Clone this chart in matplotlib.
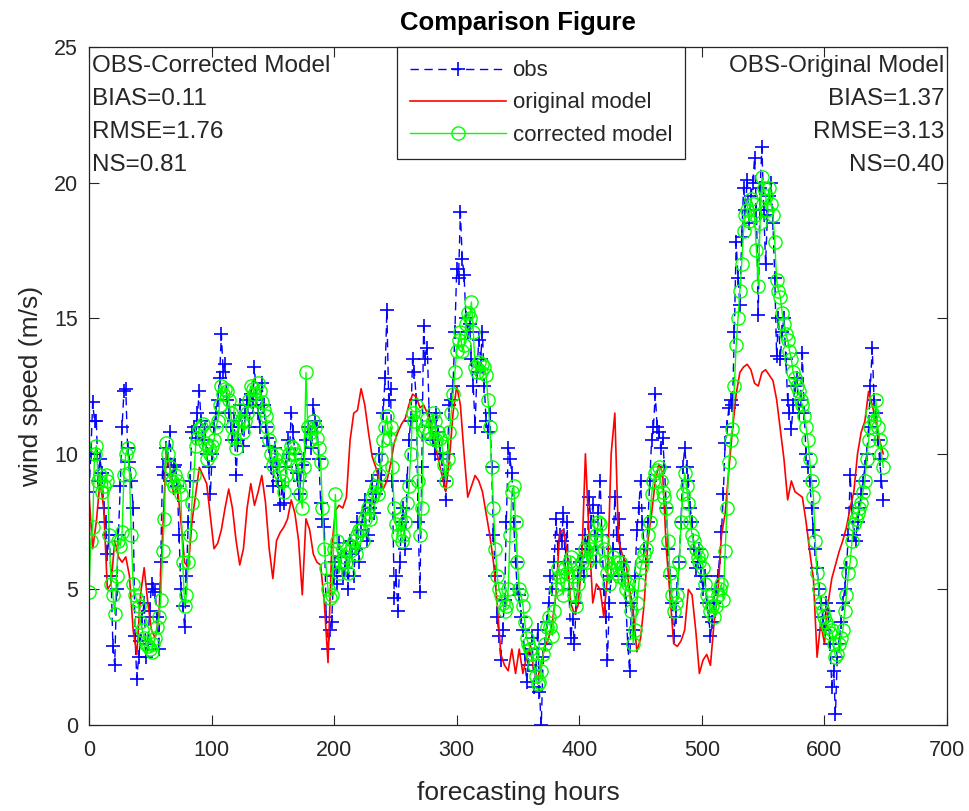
import numpy as np
import matplotlib
matplotlib.use("Agg")
import matplotlib.pyplot as plt

plt.rcParams['font.family'] = ['Liberation Sans', 'DejaVu Sans']

# forecasting hours: main 3-hourly samples and the in-between samples
hours = np.arange(0, 649, 3)
hours_mid = np.arange(1.5, 648, 3)

obs = [
    8.6, 11.9, 11.2, 9.8, 8.0, 6.3, 5.5, 2.2, 7.0, 11.0,
    12.4, 9.7, 8.0, 1.7, 3.1, 4.5, 3.0, 5.2, 4.9, 2.8,
    9.5, 10.2, 10.8, 9.5, 8.8, 5.0, 3.6, 7.5, 10.8, 10.6,
    12.3, 10.5, 10.0, 8.5, 11.0, 12.0, 14.4,
    13.3, 11.5, 10.5, 9.2, 11.8, 10.3, 12.0, 12.2, 13.2, 11.5,
    12.6, 11.0, 10.3, 8.8, 9.5, 8.1, 8.2, 10.5, 11.5, 10.0,
    8.5, 9.6, 10.5, 10.8, 11.8, 11.0, 8.2, 7.3, 2.8, 3.8,
    6.0, 6.7, 5.5,
    6.2, 6.8, 5.5, 7.5, 7.2, 8.3, 7.0, 9.0, 8.5, 10.0,
    11.5, 15.3, 12.4, 4.7, 4.2, 7.5, 6.5, 10.5, 13.5, 12.0,
    4.9, 14.7, 13.9, 11.0, 10.0, 10.8, 9.8, 8.3, 11.8, 12.5,
    16.8, 18.9, 16.6, 14.5, 13.5, 11.0, 14.2,
    14.5, 11.2, 11.5, 7.0, 4.0, 2.4, 4.6, 10.2, 9.3, 6.0,
    4.8, 3.5, 1.6, 2.8, 1.4, 3.5, 0.0, 3.0, 4.5, 5.0,
    7.6, 7.0,
    7.8, 7.5, 3.2, 3.0, 5.5, 6.5, 7.0, 8.4, 8.1, 6.0,
    9.0, 5.0, 2.4, 5.5, 8.4, 7.6, 5.5, 4.5, 2.0, 3.5,
    7.2, 9.0, 6.5, 7.5, 10.5, 12.2, 10.8, 10.6, 8.0, 5.5,
    3.3, 5.0, 7.5, 10.2, 9.0, 7.5, 5.8, 6.5, 5.0, 4.5,
    3.3, 4.5, 5.5, 7.1, 10.4, 11.7, 11.8,
    17.8, 15.5, 19.8, 20.1, 19.5, 20.9, 15.1, 21.3, 17.0, 19.5,
    18.5, 13.6, 13.5, 15.0, 12.0, 10.9, 12.5, 11.5, 13.7, 10.0,
    9.0, 7.2, 5.8, 4.5, 3.5, 4.2, 1.4, 0.4, 3.0, 4.5,
    5.8, 9.2, 7.0, 7.5, 8.5, 9.5, 11.0, 13.9, 11.5, 9.8,
    8.3,
]

obs_mid = [
    10.0, 11.2, 9.0, 9.3, 7.5, 7.0, 2.9, 5.0, 8.8, 12.3,
    10.2, 9.0, 3.3, 2.5, 4.0, 2.5, 4.2, 5.0, 4.0, 6.0,
    9.2, 9.8, 9.0, 9.6, 7.0, 4.4, 5.5, 9.0, 11.0, 11.5,
    11.2, 11.0, 9.5, 10.0, 11.5, 12.8,
    13.0, 12.0, 11.0, 11.2, 10.5, 11.0, 11.5, 11.0, 11.8, 12.0,
    11.0, 11.8, 10.6, 9.5, 10.2, 9.0, 8.8, 9.5, 10.0, 10.8,
    9.3, 9.0, 9.8, 11.0, 10.2, 11.2, 9.8, 7.6, 4.0, 3.5,
    5.5, 5.2, 6.2, 5.8,
    5.0, 6.3, 6.5, 6.0, 7.8, 6.8, 8.0, 7.8, 9.2, 9.0,
    12.8, 12.0, 9.0, 5.5, 6.0, 8.0, 9.0, 11.2, 13.0, 7.5,
    9.5, 13.5, 11.5, 10.5, 11.5, 10.0, 9.0, 10.0, 12.0, 14.5,
    16.5, 17.2, 15.0, 14.8, 12.5, 13.0,
    13.5, 12.5, 10.8, 9.5, 5.5, 3.3, 3.5, 7.5, 9.8, 7.5,
    5.0, 4.0, 2.6, 2.2, 3.2, 2.0, 1.2, 2.5, 3.8, 5.5,
    6.0, 6.5, 6.8,
    6.0, 5.0, 3.9, 4.5, 6.0, 5.5, 6.5, 7.5, 7.0, 7.8,
    7.0, 4.0, 4.5, 6.5, 7.0, 6.5, 6.0, 3.0, 4.5, 5.5,
    8.0, 7.5, 6.0, 9.0, 11.0, 11.0, 10.2, 9.5, 6.5, 4.5,
    4.0, 6.0, 9.5, 9.5, 8.0, 6.5, 6.0, 5.5, 5.5, 4.0,
    3.8, 5.0, 6.2, 8.5, 11.0, 12.0, 14.5,
    16.5, 18.0, 19.0, 18.5, 20.0, 19.0, 19.8, 19.0, 18.8, 20.0,
    16.5, 15.0, 14.5, 13.5, 11.5, 11.8, 12.8, 12.0, 11.5, 9.5,
    8.0, 6.5, 5.0, 4.0, 4.5, 3.0, 2.0, 2.5, 3.8, 5.0,
    7.0, 8.0, 6.8, 8.0, 9.0, 10.0, 12.5, 12.0, 10.5, 9.0,
]

original_model = [
    8.5, 6.5, 7.5, 9.0, 8.0, 5.0, 5.2, 6.8, 6.2, 6.0,
    6.2, 5.5, 3.5, 2.6, 4.8, 5.8, 4.5, 3.5, 3.2, 4.0,
    7.0, 10.0, 9.5, 8.5, 8.8, 7.5, 6.0, 5.8, 7.5, 8.5,
    9.5, 9.2, 8.9, 7.7, 6.5, 6.7, 7.2, 8.0, 8.7, 8.0,
    6.8, 5.9, 6.5, 8.0, 8.9, 8.1, 8.6, 9.2, 8.2, 6.5,
    5.4, 6.8, 7.1, 7.3, 7.6, 8.3, 7.8, 6.8, 4.8, 7.6,
    7.2, 6.3, 6.0, 5.9, 4.5, 2.3, 6.5, 7.9, 8.1, 8.0,
    8.4, 10.5, 11.5, 11.6, 12.4, 11.8, 10.8, 9.9, 9.5, 9.0,
    8.7, 9.0, 9.6, 10.4, 10.8, 11.1, 11.3, 11.8, 12.2, 12.1,
    11.7, 11.8, 11.5, 11.0, 10.4, 9.8, 9.2, 8.6, 9.8, 11.5,
    12.5, 11.8, 10.0, 8.4, 8.8, 9.2, 9.0, 8.6, 7.8, 7.0,
    6.0, 4.5, 2.6, 2.2, 2.0, 2.8, 1.9, 2.8, 1.9, 2.5,
    2.9, 2.0, 1.7, 2.3, 2.9, 3.2, 3.8, 4.8, 7.1, 7.2,
    6.4, 4.5, 4.1, 4.4, 6.0, 10.0, 7.0, 4.5, 5.2, 5.0,
    4.0, 5.5, 10.0, 11.5, 6.8, 6.3, 6.0, 5.0, 4.2, 2.7,
    3.2, 4.5, 6.8, 7.8, 9.0, 9.6, 9.3, 6.5, 4.8, 3.0,
    2.9, 3.1, 3.5, 5.0, 4.8, 3.5, 1.9, 2.4, 2.6, 2.2,
    3.8, 4.8, 7.0, 7.8, 9.4, 10.9, 12.2, 13.0, 13.2, 13.3,
    13.1, 12.6, 12.5, 13.0, 13.1, 12.9, 12.7, 12.0, 10.9, 9.8,
    8.3, 9.0, 8.6, 8.5, 8.4, 7.5, 6.4, 5.4, 2.5, 3.8,
    3.0, 4.5, 5.4, 5.9, 6.4, 6.8, 7.3, 8.0, 8.6, 10.0,
    10.8, 11.2, 12.3, 11.8, 11.2, 10.5, 10.0,
]

corrected_model = [
    4.9, 7.3, 10.3, 9.2, 8.8, 9.0, 5.2, 4.1, 6.8, 7.1,
    10.0, 9.3, 5.2, 4.6, 3.8, 3.2, 2.9, 2.7, 3.2, 4.0,
    6.4, 10.4, 9.5, 8.8, 9.0, 8.5, 4.4, 6.0, 8.2, 10.3,
    10.9, 11.1, 9.8, 10.0, 10.5, 11.2, 12.5,
    12.4, 12.0, 11.0, 10.2, 11.6, 10.8, 11.5, 12.5, 12.2, 12.6,
    11.9, 11.4, 10.5, 9.6, 10.0, 9.3, 8.6, 9.8, 10.3, 10.0,
    9.2, 8.0, 13.0, 10.5, 11.2, 10.6, 9.7, 6.5, 5.0, 4.8,
    8.5, 5.6, 6.5,
    6.0, 6.4, 6.8, 7.0, 7.2, 7.6, 8.0, 8.4, 8.8, 9.2,
    10.5, 11.4, 11.0, 8.0, 7.0, 6.8, 7.5, 8.8, 11.5, 11.8,
    7.0, 10.8, 11.3, 10.6, 11.2, 10.8, 10.3, 9.0, 10.8, 12.2,
    13.8, 14.5, 14.0, 15.2, 15.6, 13.2, 13.4,
    13.3, 12.9, 11.0, 8.0, 5.5, 4.8, 4.2, 5.0, 8.6, 7.5,
    5.0, 4.4, 3.2, 2.8, 2.2, 1.5, 2.0, 3.0, 4.0, 3.3,
    5.0, 5.5,
    4.8, 5.6, 6.2, 4.8, 5.2, 6.0, 6.5, 6.8, 6.2, 7.0,
    7.4, 6.5, 5.6, 5.8, 6.0, 5.5, 5.8, 5.0, 4.8, 3.0,
    4.5, 5.8, 6.3, 7.0, 8.5, 9.3, 9.5, 8.6, 8.0, 5.6,
    4.2, 4.8, 7.5, 9.3, 8.2, 7.0, 6.5, 6.0, 5.8, 4.8,
    4.2, 4.0, 4.8, 5.2, 6.4, 9.7, 10.9,
    14.0, 16.0, 18.2, 19.0, 19.4, 18.8, 16.2, 20.2, 19.5, 19.8,
    18.8, 16.4, 15.8, 14.8, 14.2, 13.5, 12.8, 12.3, 11.8, 11.0,
    9.8, 8.4, 5.6, 4.5, 4.0, 3.6, 3.5, 2.5, 3.0, 3.5,
    4.8, 6.0, 7.4, 7.8, 8.2, 9.0, 10.5, 11.5, 12.0, 10.5,
    9.5,
]

corrected_mid = [
    6.8, 10.0, 9.0, 8.6, 9.2, 7.0, 4.8, 5.5, 6.6, 9.2,
    10.2, 7.0, 4.8, 4.4, 3.5, 3.0, 2.8, 3.0, 3.6, 4.6,
    7.6, 10.0, 9.0, 9.2, 8.8, 6.0, 4.8, 7.0, 9.2, 10.6,
    11.0, 10.4, 10.2, 10.3, 11.0, 11.8,
    12.2, 12.3, 11.5, 10.6, 11.0, 11.2, 11.2, 12.0, 12.4, 12.0,
    12.3, 11.6, 11.0, 10.0, 9.8, 9.6, 9.0, 9.2, 10.0, 10.2,
    9.6, 8.5, 9.5, 11.0, 10.8, 11.0, 10.2, 8.0, 5.8, 4.7,
    6.5, 6.8, 6.0, 6.2,
    5.6, 6.6, 6.3, 7.2, 6.8, 7.8, 7.6, 8.6, 8.5, 9.8,
    11.0, 10.6, 9.5, 7.4, 7.6, 7.0, 8.2, 10.0, 11.2, 9.0,
    8.0, 11.0, 10.8, 11.5, 10.5, 10.6, 9.6, 9.8, 11.5, 13.0,
    14.2, 13.8, 14.8, 15.0, 14.5, 13.0,
    13.0, 13.2, 12.0, 9.5, 6.5, 5.0, 4.5, 4.4, 7.0, 8.8,
    6.0, 4.8, 3.8, 3.0, 2.6, 1.8, 1.6, 2.6, 3.6, 3.6,
    4.2, 5.8, 5.2,
    5.8, 6.0, 5.5, 4.4, 5.6, 6.2, 6.0, 6.5, 6.8, 7.5,
    6.8, 6.0, 5.2, 6.2, 5.6, 6.0, 5.4, 5.2, 4.2, 3.5,
    5.2, 6.0, 6.5, 7.5, 9.0, 9.4, 9.0, 8.4, 6.8, 4.8,
    4.5, 6.0, 8.5, 8.8, 7.5, 6.8, 6.2, 6.3, 5.2, 4.5,
    4.4, 4.4, 5.0, 4.6, 8.0, 10.5, 12.5,
    15.0, 17.0, 18.8, 18.6, 19.2, 17.5, 18.5, 19.8, 19.0, 19.2,
    17.8, 16.0, 15.2, 14.4, 13.8, 13.0, 12.5, 12.0, 11.4, 10.5,
    9.0, 6.8, 5.0, 4.2, 3.8, 3.4, 3.0, 2.6, 3.2, 4.2,
    5.6, 6.8, 7.6, 8.0, 8.6, 9.8, 11.0, 11.2, 11.0, 10.0,
]

x_ticks = [0, 100, 200, 300, 400, 500, 600, 700]
y_ticks = [0, 5, 10, 15, 20, 25]
left_text = ["OBS-Corrected Model", "BIAS=0.11", "RMSE=1.76", "NS=0.81"]
right_text = ["OBS-Original Model", "BIAS=1.37", "RMSE=3.13", "NS=0.40"]

assert len(obs) == len(hours) == len(original_model) == len(corrected_model)
assert len(obs_mid) == len(hours_mid) == len(corrected_mid)

# merge main and in-between samples into one time-ordered series
hours_all = np.empty(len(hours) + len(hours_mid))
hours_all[0::2] = hours
hours_all[1::2] = hours_mid
obs_all = np.empty_like(hours_all)
obs_all[0::2] = obs
obs_all[1::2] = obs_mid
corr_all = np.empty_like(hours_all)
corr_all[0::2] = corrected_model
corr_all[1::2] = corrected_mid

grey = (0.15, 0.15, 0.15)
fig = plt.figure(figsize=(9.7, 8.11), dpi=100)
ax = fig.add_axes([89 / 970, 1 - 725 / 811, 858 / 970, 678 / 811])

ax.plot(hours_all, obs_all, color=(0, 0, 1), linestyle=(0, (6, 4)),
        linewidth=1.0, marker='+', markersize=10.5, markeredgewidth=1.2,
        label='obs')
ax.plot(hours, original_model, color=(1, 0, 0), linewidth=1.2,
        label='original model')
ax.plot(hours_all, corr_all, color=(0, 1, 0), linewidth=1.0,
        marker='o', markersize=9.5, markerfacecolor='none',
        markeredgewidth=1.0, label='corrected model')

ax.set_xlim(0, 700)
ax.set_ylim(0, 25)
ax.set_xticks(x_ticks)
ax.set_yticks(y_ticks)
ax.tick_params(direction='in', length=7, width=0.8, top=True, right=True,
               labelsize=15.5, colors=grey)
ax.tick_params(axis='x', pad=11)
ax.tick_params(axis='y', pad=8)
for sp in ax.spines.values():
    sp.set_color(grey)
    sp.set_linewidth(0.9)

ax.set_xlabel('forecasting hours', fontsize=19, color=grey, labelpad=14)
ax.set_ylabel('wind speed (m/s)', fontsize=19, color=grey, labelpad=8)
ax.set_title('Comparison Figure', fontsize=18.5, fontweight='bold',
             color='black', pad=12)

ys = [0.972, 0.923, 0.875, 0.826]
for t, y in zip(left_text, ys):
    ax.text(0.004, y, t, transform=ax.transAxes, ha='left', va='center',
            fontsize=17.5, color=grey)
for t, y in zip(right_text, ys):
    ax.text(0.997, y, t, transform=ax.transAxes, ha='right', va='center',
            fontsize=17.5, color=grey)

leg = ax.legend(loc='upper left', bbox_to_anchor=(0.359, 1.0), fontsize=16,
                frameon=True, fancybox=False, edgecolor=grey,
                handlelength=4.3, handletextpad=0.3, labelspacing=0.5,
                borderpad=0.6, borderaxespad=0.0, framealpha=1)
leg.get_frame().set_linewidth(0.9)
for txt in leg.get_texts():
    txt.set_color(grey)

fig.savefig('out.png', dpi=100)
